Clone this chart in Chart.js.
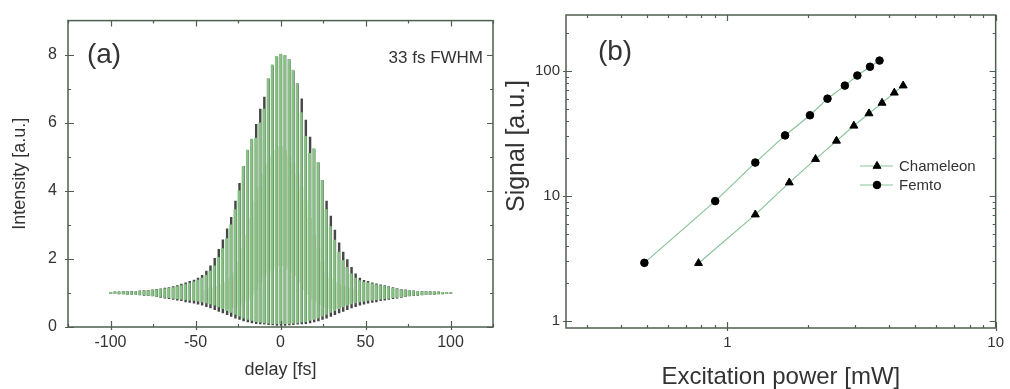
<!DOCTYPE html>
<html>
<head>
<meta charset="utf-8">
<script src="https://cdn.jsdelivr.net/npm/chart.js@4/dist/chart.umd.min.js"></script>
<style>
  html, body { margin: 0; padding: 0; background: #fff; }
  #wrap { position: relative; width: 1010px; height: 389px; overflow: hidden; }
  canvas { position: absolute; top: 0; }
  #panelA { left: 0; }
  #panelB { left: 505px; }
</style>
</head>
<body>
<div id="wrap">
  <canvas id="panelA" width="505" height="389"></canvas>
  <canvas id="panelB" width="505" height="389"></canvas>
</div>
<script>
// ---- panel (a): autocorrelation fringes, one entry per fringe ----
const delays = [-100.0,-97.6,-95.2,-92.7,-90.3,-87.8,-85.4,-83.0,-80.5,-78.1,-75.6,-73.2,-70.8,-68.3,-65.9,-63.4,-61.0,-58.6,-56.1,-53.7,-51.2,-48.8,-46.4,-43.9,-41.5,-39.0,-36.6,-34.2,-31.7,-29.3,-26.8,-24.4,-22.0,-19.5,-17.1,-14.6,-12.2,-9.8,-7.3,-4.9,-2.4,0.0,2.4,4.9,7.3,9.8,12.2,14.6,17.1,19.5,22.0,24.4,26.8,29.3,31.7,34.2,36.6,39.0,41.5,43.9,46.4,48.8,51.2,53.7,56.1,58.6,61.0,63.4,65.9,68.3,70.8,73.2,75.6,78.1,80.5,83.0,85.4,87.8,90.3,92.7,95.2,97.6,100.0];

const darkPeak = [1.02,1.03,1.03,1.04,1.04,1.05,1.05,1.06,1.07,1.08,1.09,1.11,1.12,1.14,1.16,1.19,1.22,1.26,1.30,1.34,1.38,1.44,1.52,1.64,1.80,2.02,2.28,2.56,2.88,3.22,3.70,4.22,4.72,5.18,5.50,5.95,6.40,6.75,7.28,7.68,7.93,
  8.00,
  7.97,7.85,7.52,7.14,6.70,6.08,5.58,5.22,4.82,4.30,3.70,3.26,2.85,2.47,2.20,1.98,1.75,1.56,1.44,1.37,1.34,1.30,1.27,1.24,1.22,1.19,1.16,1.13,1.11,1.09,1.07,1.06,1.05,1.05,1.04,1.04,1.03,1.03,1.02,1.02,1.01];
const darkDip = [0.98,0.98,0.97,0.97,0.96,0.96,0.95,0.94,0.93,0.92,0.91,0.89,0.87,0.85,0.83,0.81,0.79,0.77,0.74,0.72,0.70,0.67,0.64,0.60,0.56,0.51,0.46,0.41,0.36,0.31,0.26,0.22,0.18,0.15,0.12,0.10,0.09,0.08,0.07,0.06,0.05,
  0.05,
  0.05,0.06,0.07,0.08,0.09,0.10,0.12,0.15,0.18,0.22,0.26,0.31,0.36,0.41,0.46,0.51,0.56,0.60,0.64,0.67,0.70,0.72,0.74,0.77,0.79,0.81,0.83,0.85,0.87,0.89,0.91,0.92,0.93,0.94,0.95,0.96,0.96,0.97,0.97,0.98,0.98];

const greenPeak = [1.02,1.03,1.03,1.03,1.04,1.04,1.05,1.05,1.06,1.07,1.08,1.09,1.11,1.12,1.14,1.16,1.19,1.22,1.25,1.29,1.33,1.38,1.44,1.52,1.64,1.80,2.05,2.30,2.60,3.00,3.45,4.00,4.72,5.20,5.52,5.55,6.00,6.40,7.30,7.70,7.95,
  8.02,
  7.98,7.86,7.55,7.15,6.30,5.60,5.10,5.24,4.84,4.30,3.45,2.95,2.55,2.20,1.95,1.75,1.56,1.44,1.36,1.32,1.30,1.27,1.24,1.22,1.20,1.17,1.14,1.12,1.10,1.08,1.07,1.06,1.05,1.04,1.04,1.03,1.03,1.02,1.02,1.02,1.01];
const greenDip = [0.98,0.98,0.97,0.97,0.96,0.96,0.95,0.95,0.94,0.93,0.92,0.90,0.89,0.87,0.86,0.84,0.83,0.82,0.80,0.79,0.78,0.76,0.74,0.71,0.68,0.64,0.59,0.54,0.48,0.43,0.37,0.32,0.27,0.22,0.19,0.16,0.14,0.12,0.11,0.10,0.10,
  0.10,
  0.10,0.10,0.11,0.12,0.14,0.16,0.19,0.22,0.27,0.32,0.37,0.43,0.48,0.54,0.59,0.64,0.68,0.71,0.74,0.76,0.78,0.79,0.80,0.82,0.83,0.84,0.86,0.87,0.89,0.90,0.92,0.93,0.94,0.95,0.95,0.96,0.96,0.97,0.97,0.98,0.98];

// pale trace filling the gaps near the centre
const paleLow = [null,null,null,null,null,null,null,null,null,null,null,null,null,null,null,null,null,null,null,null,null,null,null,
  0.78,0.72,0.66,0.60,0.56,0.55,0.55,0.58,0.65,0.72,0.82,0.95,1.10,1.30,1.50,1.60,1.70,1.80,
  1.80,
  1.80,1.70,1.60,1.50,1.30,1.10,0.95,0.82,0.72,0.65,0.58,0.55,0.55,0.56,0.60,0.66,0.72,0.78,
  null,null,null,null,null,null,null,null,null,null,null,null,null,null,null,null,null,null,null,null,null,null,null];
const paleHigh = [null,null,null,null,null,null,null,null,null,null,null,null,null,null,null,null,null,null,null,null,null,null,null,
  1.08,1.12,1.16,1.20,1.25,1.32,1.42,1.60,1.90,2.30,2.70,3.20,3.70,4.10,4.50,4.80,5.00,5.20,
  5.30,
  5.20,5.00,4.80,4.50,4.10,3.70,3.20,2.70,2.30,1.90,1.60,1.42,1.32,1.25,1.20,1.16,1.12,1.08,
  null,null,null,null,null,null,null,null,null,null,null,null,null,null,null,null,null,null,null,null,null,null,null];

const aXTicks = [-100, -50, 0, 50, 100];
const aXMinor = [-125, -75, -25, 25, 75, 125];
const aYTicks = [0, 2, 4, 6, 8];
const aYMinor = [1, 3, 5, 7];

// ---- panel (b): signal vs excitation power ----
const chamPower  = [0.78, 1.27, 1.70, 2.13, 2.55, 2.96, 3.37, 3.77, 4.19, 4.52];
const chamSignal = [2.9, 7.1, 12.8, 19.7, 27.6, 36.4, 45.7, 55.5, 66.9, 76.3];
const femtoPower  = [0.49, 0.90, 1.27, 1.64, 2.03, 2.36, 2.74, 3.05, 3.40, 3.69];
const femtoSignal = [2.92, 9.1, 18.5, 30.5, 44.2, 60, 76.3, 91.9, 108, 121];

const bXTicks = [1, 10];
const bXMinor = [0.3, 0.4, 0.5, 0.6, 0.7, 0.8, 0.9, 2, 3, 4, 5, 6, 7, 8, 9];
const bYTicks = [1, 10, 100];
const bYMinor = [2, 3, 4, 5, 6, 7, 8, 9, 20, 30, 40, 50, 60, 70, 80, 90, 200];

const FONT = 'Liberation Sans, Arial, Helvetica, sans-serif';
const axisColor = '#4d5f4d';
const textColor = '#333333';
const fitColor = '#88c497';

Chart.defaults.font.family = FONT;
Chart.defaults.color = textColor;

// draws the box and inward tick marks, using the chart's own scales
function framePlugin(xMajor, xMinor, yMajor, yMinor) {
  return {
    id: 'frame',
    afterDatasetsDraw(chart) {
      const { ctx, chartArea: a, scales: { x, y } } = chart;
      ctx.save();
      ctx.strokeStyle = axisColor;
      ctx.lineWidth = 1.5;
      ctx.strokeRect(a.left, a.top, a.right - a.left, a.bottom - a.top);
      ctx.lineWidth = 1.2;
      ctx.beginPath();
      const xmark = (vals, len, out) => vals.forEach(v => {
        const px = Math.round(x.getPixelForValue(v)) + 0.5;
        if (px < a.left - 1 || px > a.right + 1) return;
        ctx.moveTo(px, a.bottom + out); ctx.lineTo(px, a.bottom - len);
        ctx.moveTo(px, a.top); ctx.lineTo(px, a.top + len);
      });
      const ymark = (vals, len, out) => vals.forEach(v => {
        const py = Math.round(y.getPixelForValue(v)) + 0.5;
        if (py < a.top - 1 || py > a.bottom + 1) return;
        ctx.moveTo(a.left - out, py); ctx.lineTo(a.left + len, py);
        ctx.moveTo(a.right - len, py); ctx.lineTo(a.right, py);
      });
      xmark(xMajor, 6, 3); xmark(xMinor, 3, 0);
      ymark(yMajor, 6, 3); ymark(yMinor, 3, 0);
      ctx.stroke();
      ctx.restore();
    }
  };
}

function fixedTicks(list) {
  return scale => { scale.ticks = list.map(v => ({ value: v })); };
}

// ---------- panel (a) ----------
const bars = (lo, hi, shift) => delays
  .map((d, i) => (lo[i] == null ? null : { x: d + shift, y: [lo[i], hi[i]] }))
  .filter(p => p !== null);

new Chart(document.getElementById('panelA'), {
  type: 'bar',
  data: {
    datasets: [
      { label: 'fit', data: bars(greenDip, greenPeak, 0), backgroundColor: '#88c185',
        barThickness: 2.2, grouped: false, borderWidth: 0 },
      { label: 'measured', data: bars(darkDip, darkPeak, 0.3), backgroundColor: '#454845',
        barThickness: 1.8, grouped: false, borderWidth: 0 },
      { label: 'pale', data: bars(paleLow, paleHigh, 0), backgroundColor: '#dbeacb',
        barThickness: 4.2, grouped: false, borderWidth: 0 }
    ]
  },
  options: {
    responsive: false,
    animation: false,
    devicePixelRatio: 1,
    layout: { padding: { left: 0, right: 12, top: 9, bottom: 0 } },
    plugins: { legend: { display: false }, tooltip: { enabled: false } },
    scales: {
      x: {
        type: 'linear', min: -125, max: 125, offset: false,
        grid: { display: false, drawTicks: false, offset: false },
        border: { display: false },
        afterBuildTicks: fixedTicks(aXTicks),
        afterFit: s => { s.height = 62; },
        ticks: { font: { size: 16 }, color: textColor, padding: 6, maxRotation: 0 },
        title: { display: true, text: 'delay [fs]', font: { size: 18 }, color: textColor,
                 padding: { top: 0, bottom: 8 } }
      },
      y: {
        type: 'linear', min: 0, max: 9,
        grid: { display: false, drawTicks: false },
        border: { display: false },
        afterBuildTicks: fixedTicks(aYTicks),
        afterFit: s => { s.width = 68; },
        ticks: { font: { size: 16 }, color: textColor, padding: 11 },
        title: { display: true, text: 'Intensity [a.u.]', font: { size: 18 }, color: textColor,
                 padding: { top: 9, bottom: 0 } }
      }
    }
  },
  plugins: [
    framePlugin(aXTicks, aXMinor, aYTicks, aYMinor),
    {
      id: 'notesA',
      afterDraw(chart) {
        const ctx = chart.ctx;
        ctx.save();
        ctx.fillStyle = textColor;
        ctx.textBaseline = 'middle';
        ctx.font = '28px ' + FONT;
        ctx.textAlign = 'center';
        ctx.fillText('(a)', 104, 55);
        ctx.font = '17px ' + FONT;
        ctx.textAlign = 'right';
        ctx.fillText('33 fs FWHM', 483, 58);
        ctx.restore();
      }
    }
  ]
});

// ---------- panel (b) ----------
const pairs = (xs, ys) => xs.map((v, i) => ({ x: v, y: ys[i] }));

const seriesB = [
  { label: 'Chameleon', data: pairs(chamPower, chamSignal), pointStyle: 'triangle', pointRadius: 4.6 },
  { label: 'Femto', data: pairs(femtoPower, femtoSignal), pointStyle: 'circle', pointRadius: 3.8 }
];

new Chart(document.getElementById('panelB'), {
  type: 'line',
  data: {
    datasets: seriesB.map(s => ({
      label: s.label, data: s.data,
      borderColor: fitColor, borderWidth: 1.2,
      pointStyle: s.pointStyle, pointRadius: s.pointRadius,
      pointBackgroundColor: '#000', pointBorderColor: '#000', pointBorderWidth: 1,
      tension: 0, fill: false
    }))
  },
  options: {
    responsive: false,
    animation: false,
    devicePixelRatio: 1,
    layout: { padding: { left: 0, right: 11, top: 9, bottom: 0 } },
    plugins: { legend: { display: false }, tooltip: { enabled: false } },
    scales: {
      x: {
        type: 'logarithmic', min: 0.25, max: 10,
        grid: { display: false, drawTicks: false },
        border: { display: false },
        afterBuildTicks: fixedTicks(bXTicks),
        afterFit: s => { s.height = 61; },
        ticks: { font: { size: 15 }, color: textColor, padding: 6, maxRotation: 0,
                 callback: v => String(v) },
        title: { display: true, text: 'Excitation power [mW]',
                 font: { size: 24, lineHeight: 1 }, color: textColor,
                 padding: { top: 0, bottom: 0 } }
      },
      y: {
        type: 'logarithmic', min: 0.88, max: 280,
        grid: { display: false, drawTicks: false },
        border: { display: false },
        afterBuildTicks: fixedTicks(bYTicks),
        afterFit: s => { s.width = 61; },
        ticks: { font: { size: 15 }, color: textColor, padding: 6, callback: v => String(v) },
        title: { display: false }
      }
    }
  },
  plugins: [
    framePlugin(bXTicks, bXMinor, bYTicks, bYMinor),
    {
      id: 'notesB',
      afterDraw(chart) {
        const ctx = chart.ctx;
        ctx.save();
        ctx.fillStyle = textColor;
        ctx.textBaseline = 'middle';
        ctx.textAlign = 'center';
        ctx.font = '28px ' + FONT;
        ctx.fillText('(b)', 110, 52);
        // y axis title, placed as in the original figure
        ctx.save();
        ctx.translate(12, 146);
        ctx.rotate(-Math.PI / 2);
        ctx.font = '25px ' + FONT;
        ctx.fillText('Signal [a.u.]', 0, 0);
        ctx.restore();
        // legend
        const rows = [166, 185];
        chart.data.datasets.forEach((ds, i) => {
          const yy = rows[i];
          ctx.strokeStyle = fitColor;
          ctx.lineWidth = 1.2;
          ctx.beginPath();
          ctx.moveTo(355, yy); ctx.lineTo(388, yy);
          ctx.stroke();
          ctx.fillStyle = '#000';
          ctx.strokeStyle = '#000';
          ctx.lineWidth = 1;
          Chart.helpers.drawPoint(ctx, {
            pointStyle: ds.pointStyle, radius: ds.pointRadius, rotation: 0, borderWidth: 1
          }, 372, yy);
          ctx.fillStyle = textColor;
          ctx.textAlign = 'left';
          ctx.font = '15px ' + FONT;
          ctx.fillText(ds.label, 394, yy + 1);
        });
        ctx.restore();
      }
    }
  ]
});
</script>
</body>
</html>
